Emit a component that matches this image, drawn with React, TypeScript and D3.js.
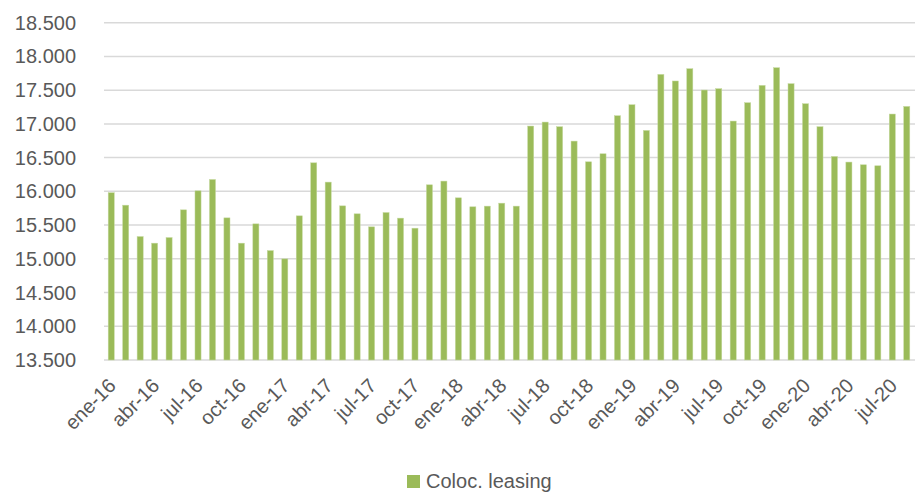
import React from "react";
import * as d3 from "d3";

const months = ["ene", "feb", "mar", "abr", "may", "jun", "jul", "ago", "sep", "oct", "nov", "dic"];
const years = ["16", "17", "18", "19", "20"];
const categories: string[] = [];
years.forEach((y) => months.forEach((m) => categories.push(`${m}-${y}`)));
const periods = categories.slice(0, 56);

const values = [
  15980, 15795, 15330, 15232, 15315, 15726, 16008, 16176, 15607, 15232, 15518, 15122,
  14999, 15637, 16423, 16137, 15785, 15667, 15474, 15686, 15603, 15454, 16097, 16152,
  15904, 15771, 15781, 15825, 15781, 16968, 17027, 16958, 16745, 16438, 16557, 17121,
  17284, 16903, 17734, 17636, 17818, 17502, 17522, 17042, 17314, 17571, 17833, 17596,
  17299, 16958, 16517, 16434, 16394, 16379, 17146, 17259,
];
const yTicks = [13500, 14000, 14500, 15000, 15500, 16000, 16500, 17000, 17500, 18000, 18500];
const seriesName = "Coloc. leasing";

const W = 915, H = 493;
const left = 104, right = 914, top = 22.7, bottom = 360;
const font = "'Liberation Sans', Arial, sans-serif";
const textColor = "#595959";
const green = "#9BBB59";

export default function App() {
  const x = d3.scaleBand<string>().domain(periods).range([left, right]).paddingInner(0.58).paddingOuter(0.29);
  const y = d3.scaleLinear().domain([13500, 18500]).range([bottom, top]);
  const fmt = (v: number) => d3.format(",")(v).replace(/,/g, ".");
  return (
    <svg width={W} height={H} style={{ position: "absolute", left: 0, top: 0, background: "#fff" }}>
      {yTicks.map((t) => (
        <g key={t}>
          <line x1={left} x2={W} y1={y(t)} y2={y(t)} stroke="#d9d9d9" strokeWidth={1.5} />
          <text x={76} y={y(t)} dy="0.35em" textAnchor="end" fontFamily={font} fontSize={20} fill={textColor}>
            {fmt(t)}
          </text>
        </g>
      ))}
      {periods.map((p, i) => (
        <rect key={p} x={x(p)} y={y(values[i])} width={x.bandwidth()} height={y(13500) - y(values[i])} fill={green} stroke="#c5d9a0" strokeWidth={0.5} />
      ))}
      {periods.map((p, i) =>
        i % 3 === 0 ? (
          <text
            key={"l" + p}
            transform={`translate(${(x(p) as number) + x.bandwidth() / 2 + 6},${bottom + 27}) rotate(-45)`}
            textAnchor="end"
            fontFamily={font}
            fontSize={20}
            fill={textColor}
          >
            {p}
          </text>
        ) : null
      )}
      <rect x={407} y={475} width={13} height={13} fill={green} />
      <text x={426} y={488} fontFamily={font} fontSize={20} fill={textColor}>
        {seriesName}
      </text>
    </svg>
  );
}
